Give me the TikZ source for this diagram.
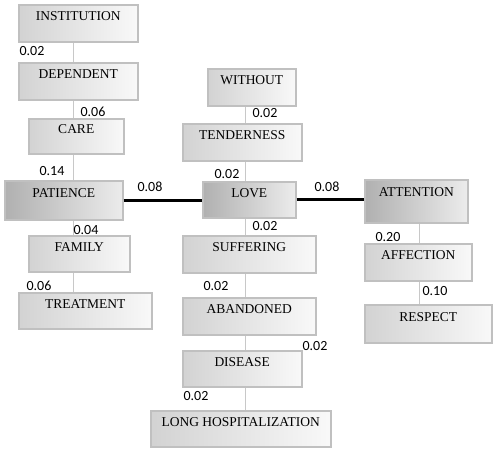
\documentclass[tikz,border=0pt]{standalone}
\usepackage{fontspec}
\setmainfont{Liberation Serif}
\newfontfamily\numfont{Carlito}
\usetikzlibrary{positioning}
\definecolor{boxline}{RGB}{192,192,192}
\definecolor{spine}{RGB}{200,200,200}
\tikzstyle{term} = [
    rectangle,
    draw=boxline,
    line width=1.5pt,
    anchor=north west,
    inner sep=0pt,
    text height=14pt,
    text depth=19pt,
    left color=gray!35,
    right color=gray!5,
    font=\fontsize{13.5}{14}\selectfont
]
\tikzstyle{core} = [
    term,
    left color=gray!62,
    right color=gray!15
]
\tikzstyle{link} = [
    draw=spine,
    line width=1pt
]
\tikzstyle{bond} = [
    draw=black,
    line width=3pt
]
\tikzstyle{weight} = [
    inner sep=0pt,
    font=\numfont\fontsize{14}{14}\selectfont
]

\begin{document}
\begin{tikzpicture}[x=1pt, y=-1pt]
        \useasboundingbox (0,0) rectangle (496,451);
        \coordinate (lx) at (73,0);
        \coordinate (mx) at (245,0);
        \coordinate (rx) at (419,0);

        % Left column
        \node[term, minimum width=119, minimum height=37] (inst) at (18,4) {INSTITUTION};
        \node[term, minimum width=119, minimum height=37] (dep) at (18,62) {DEPENDENT};
        \node[term, minimum width=95, minimum height=35] (care) at (28,118) {CARE};
        \node[core, minimum width=118, minimum height=39] (pat) at (4,180) {PATIENCE};
        \node[term, minimum width=101, minimum height=36] (fam) at (28,235) {FAMILY};
        \node[term, minimum width=133, minimum height=36] (treat) at (18,292) {TREATMENT};

        % Middle column
        \node[term, minimum width=88, minimum height=37] (without) at (207,68) {WITHOUT};
        \node[term, minimum width=119, minimum height=37] (tend) at (182,123) {TENDERNESS};
        \node[core, minimum width=93, minimum height=36] (love) at (202,181) {LOVE};
        \node[term, minimum width=133, minimum height=37] (suff) at (182,235) {SUFFERING};
        \node[term, minimum width=133, minimum height=37] (aband) at (182,297) {ABANDONED};
        \node[term, minimum width=119, minimum height=36] (dis) at (182,350) {DISEASE};
        \node[term, minimum width=180, minimum height=36] (longh) at (150,410) {LONG HOSPITALIZATION};

        % Right column
        \node[core, minimum width=103, minimum height=43, text depth=24pt] (att) at (364,179) {ATTENTION};
        \node[term, minimum width=107, minimum height=37] (aff) at (364,243) {AFFECTION};
        \node[term, minimum width=127, minimum height=38] (resp) at (364,304) {RESPECT};

        % Spines
        \draw[link] (inst.south -| lx) -- (dep.north -| lx);
        \draw[link] (dep.south -| lx) -- (care.north -| lx);
        \draw[link] (care.south -| lx) -- (pat.north -| lx);
        \draw[link] (pat.south -| lx) -- (fam.north -| lx);
        \draw[link] (fam.south -| lx) -- (treat.north -| lx);
        \draw[link] (without.south -| mx) -- (tend.north -| mx);
        \draw[link] (tend.south -| mx) -- (love.north -| mx);
        \draw[link] (love.south -| mx) -- (suff.north -| mx);
        \draw[link] (suff.south -| mx) -- (aband.north -| mx);
        \draw[link] (aband.south -| mx) -- (dis.north -| mx);
        \draw[link] (dis.south -| mx) -- (longh.north -| mx);
        \draw[link] (att.south -| rx) -- (aff.north -| rx);
        \draw[link] (aff.south -| rx) -- (resp.north -| rx);

        % Core links
        \draw[bond] (pat.east) -- (pat.east -| love.west);
        \draw[bond] (love.east) -- (love.east -| att.west);

        % Weights
        \node[weight] (w1) at (32,51) {0.02};
        \node[weight] (w2) at (93,112) {0.06};
        \node[weight] (w3) at (52,171) {0.14};
        \node[weight] (w4) at (150,187) {0.08};
        \node[weight] (w5) at (86,230) {0.04};
        \node[weight] (w6) at (39,286) {0.06};
        \node[weight] (w7) at (265,113) {0.02};
        \node[weight] (w8) at (227,174) {0.02};
        \node[weight] (w9) at (327,187) {0.08};
        \node[weight] (w10) at (265,226) {0.02};
        \node[weight] (w11) at (216,286) {0.02};
        \node[weight] (w12) at (315,346) {0.02};
        \node[weight] (w13) at (196,396) {0.02};
        \node[weight] (w14) at (388,237) {0.20};
        \node[weight] (w15) at (435,291) {0.10};
    \end{tikzpicture}
\end{document}
